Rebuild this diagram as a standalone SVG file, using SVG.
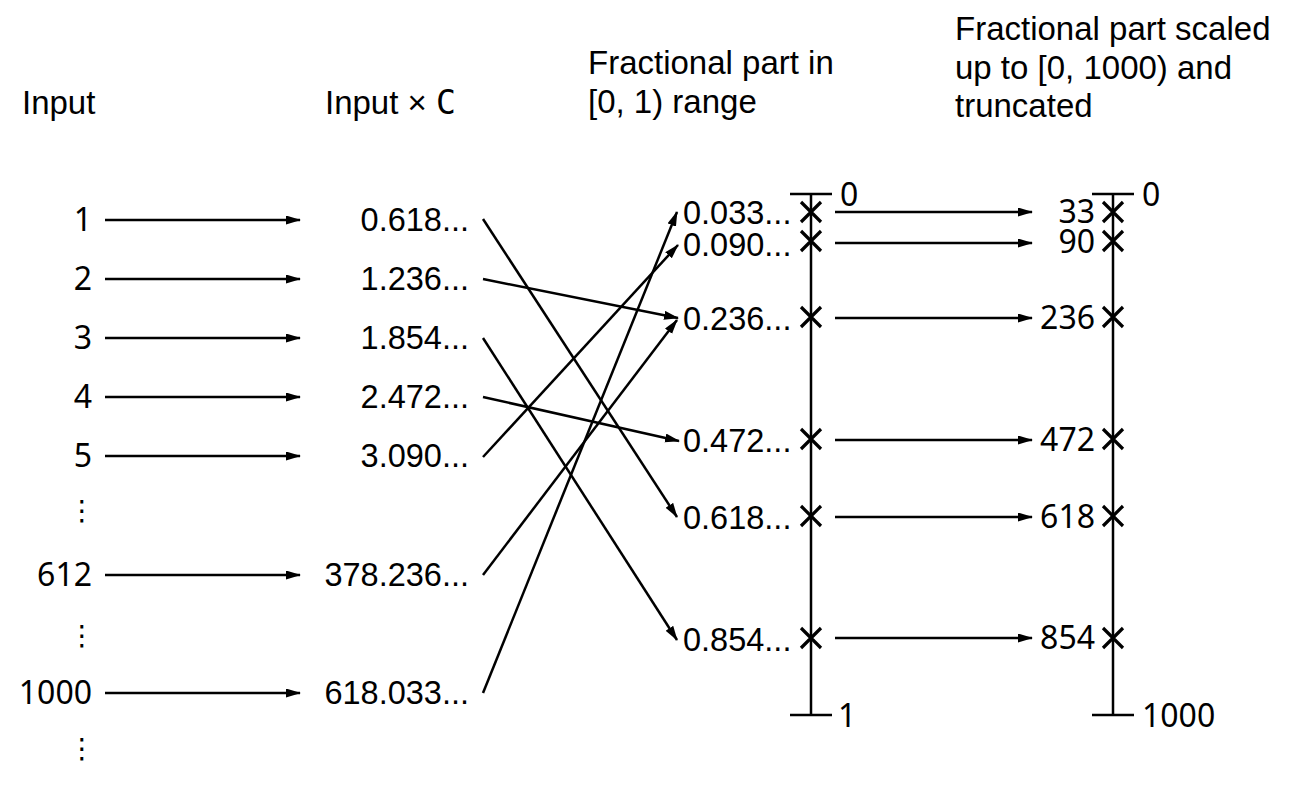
<svg xmlns="http://www.w3.org/2000/svg" width="1294" height="786" viewBox="0 0 1294 786">
<defs>
<marker id="ah" markerUnits="userSpaceOnUse" markerWidth="15" markerHeight="10" refX="14" refY="4.5" orient="auto">
<path d="M0,0 L15,4.5 L0,9 z" fill="#000"/>
</marker>
<style>
.h{font-family:"Liberation Sans",Arial,sans-serif;font-size:33px;fill:#000}
.m{font-family:"DejaVu Sans Mono","Liberation Mono",monospace;font-size:33px}
.v{font-family:"Liberation Sans",Arial,sans-serif;font-size:32.5px;fill:#000}
.n{font-family:"Noto Sans","Open Sans",sans-serif;font-size:32px;fill:#000}
.d{font-family:"DejaVu Sans",sans-serif;font-size:28px;fill:#000}
.ln{stroke:#000;stroke-width:2.5;fill:none}
.ar{stroke:#000;stroke-width:2.5;fill:none;marker-end:url(#ah)}
.x{stroke:#000;stroke-width:3.2;fill:none}
</style>
</defs>
<rect width="1294" height="786" fill="#fff"/>

<g id="headers">
<text class="h" x="22" y="114">Input</text>
<text class="h" x="325" y="114">Input × <tspan class="m">C</tspan></text>
<text class="h" x="588" y="74">Fractional part in</text>
<text class="h" x="588" y="113">[0, 1) range</text>
<text class="h" x="955" y="40">Fractional part scaled</text>
<text class="h" x="955" y="79">up to [0, 1000) and</text>
<text class="h" x="955" y="117">truncated</text>
</g>

<g id="inputs" text-anchor="end">
<text class="n" x="92" y="231">1</text>
<text class="n" x="92" y="290">2</text>
<text class="n" x="92" y="349">3</text>
<text class="n" x="92" y="408">4</text>
<text class="n" x="92" y="467">5</text>
<text class="n" x="92" y="586">612</text>
<text class="n" x="92" y="704">1000</text>
</g>
<g id="vdots" text-anchor="middle">
<text class="d" x="82" y="520">⋮</text>
<text class="d" x="82" y="645">⋮</text>
<text class="d" x="82" y="758">⋮</text>
</g>

<g id="products" text-anchor="end">
<text class="v" x="469" y="231">0.618...</text>
<text class="v" x="469" y="290">1.236...</text>
<text class="v" x="469" y="349">1.854...</text>
<text class="v" x="469" y="408">2.472...</text>
<text class="v" x="469" y="467">3.090...</text>
<text class="v" x="469" y="586">378.236...</text>
<text class="v" x="469" y="704">618.033...</text>
</g>

<g id="fractions">
<text class="v" x="683" y="224">0.033...</text>
<text class="v" x="683" y="256">0.090...</text>
<text class="v" x="683" y="330">0.236...</text>
<text class="v" x="683" y="452">0.472...</text>
<text class="v" x="683" y="529">0.618...</text>
<text class="v" x="683" y="651">0.854...</text>
</g>

<g id="axis1">
<line class="ln" x1="811" y1="194" x2="811" y2="715"/>
<line class="ln" x1="790" y1="194" x2="832" y2="194"/>
<line class="ln" x1="790" y1="715" x2="832" y2="715"/>
<text class="n" x="840" y="206">0</text>
<text class="n" x="838" y="727">1</text>
<path class="x" d="M801,202 l20,20 M821,202 l-20,20"/>
<path class="x" d="M801,231 l20,20 M821,231 l-20,20"/>
<path class="x" d="M801,307 l20,20 M821,307 l-20,20"/>
<path class="x" d="M801,429 l20,20 M821,429 l-20,20"/>
<path class="x" d="M801,506 l20,20 M821,506 l-20,20"/>
<path class="x" d="M801,628 l20,20 M821,628 l-20,20"/>
</g>

<g id="scaled" text-anchor="end">
<text class="n" x="1095" y="223">33</text>
<text class="n" x="1095" y="253">90</text>
<text class="n" x="1095" y="329">236</text>
<text class="n" x="1095" y="451">472</text>
<text class="n" x="1095" y="528">618</text>
<text class="n" x="1095" y="649">854</text>
</g>

<g id="axis2">
<line class="ln" x1="1113" y1="194" x2="1113" y2="715"/>
<line class="ln" x1="1092" y1="194" x2="1134" y2="194"/>
<line class="ln" x1="1092" y1="715" x2="1134" y2="715"/>
<text class="n" x="1142" y="206">0</text>
<text class="n" x="1142" y="727">1000</text>
<path class="x" d="M1103,202 l20,20 M1123,202 l-20,20"/>
<path class="x" d="M1103,231 l20,20 M1123,231 l-20,20"/>
<path class="x" d="M1103,307 l20,20 M1123,307 l-20,20"/>
<path class="x" d="M1103,429 l20,20 M1123,429 l-20,20"/>
<path class="x" d="M1103,506 l20,20 M1123,506 l-20,20"/>
<path class="x" d="M1103,628 l20,20 M1123,628 l-20,20"/>
</g>

<g id="connectors">
<line class="ar" x1="105" y1="220" x2="300" y2="220"/>
<line class="ar" x1="105" y1="279" x2="300" y2="279"/>
<line class="ar" x1="105" y1="338" x2="300" y2="338"/>
<line class="ar" x1="105" y1="397" x2="300" y2="397"/>
<line class="ar" x1="105" y1="456" x2="300" y2="456"/>
<line class="ar" x1="105" y1="575" x2="300" y2="575"/>
<line class="ar" x1="105" y1="693" x2="300" y2="693"/>

<line class="ar" x1="483" y1="219" x2="677" y2="517"/>
<line class="ar" x1="483" y1="279" x2="678" y2="318"/>
<line class="ar" x1="483" y1="338" x2="677" y2="640"/>
<line class="ar" x1="483" y1="397" x2="679" y2="441"/>
<line class="ar" x1="483" y1="457" x2="678" y2="245"/>
<line class="ar" x1="483" y1="575" x2="677" y2="320"/>
<line class="ar" x1="483" y1="693" x2="677" y2="212"/>

<line class="ar" x1="835" y1="212" x2="1032" y2="212"/>
<line class="ar" x1="835" y1="243" x2="1032" y2="243"/>
<line class="ar" x1="835" y1="318" x2="1032" y2="318"/>
<line class="ar" x1="835" y1="440" x2="1032" y2="440"/>
<line class="ar" x1="835" y1="517" x2="1032" y2="517"/>
<line class="ar" x1="835" y1="638" x2="1032" y2="638"/>
</g>
</svg>
